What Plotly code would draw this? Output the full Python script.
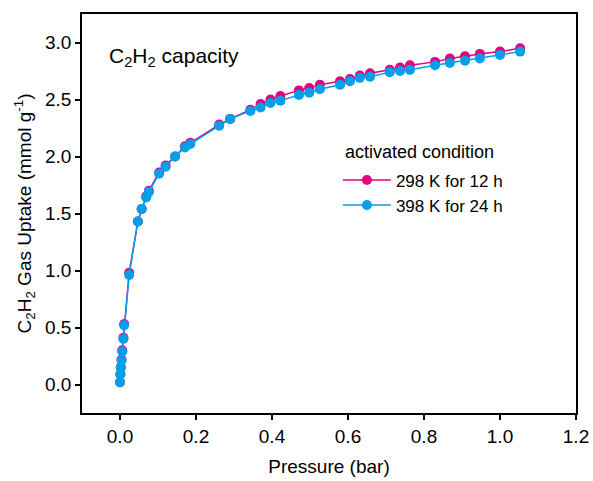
import plotly.graph_objects as go

pressure = [0.000, 0.001, 0.002, 0.004, 0.006, 0.009, 0.011, 0.024, 0.047, 0.057,
            0.069, 0.076, 0.103, 0.120, 0.145, 0.171, 0.185, 0.261, 0.290, 0.343,
            0.370, 0.396, 0.422, 0.471, 0.498, 0.526, 0.579, 0.605, 0.631, 0.658,
            0.710, 0.737, 0.763, 0.829, 0.868, 0.908, 0.947, 1.000, 1.053]

uptake_298 = [0.02, 0.09, 0.15, 0.22, 0.30, 0.41, 0.53, 0.98, 1.43, 1.54,
              1.65, 1.70, 1.86, 1.92, 2.00, 2.09, 2.12, 2.28, 2.33, 2.41,
              2.46, 2.50, 2.53, 2.58, 2.60, 2.63, 2.66, 2.68, 2.71, 2.73,
              2.76, 2.78, 2.80, 2.83, 2.86, 2.88, 2.90, 2.92, 2.95]

uptake_398 = [0.02, 0.09, 0.15, 0.21, 0.29, 0.40, 0.52, 0.96, 1.43, 1.54,
              1.64, 1.69, 1.85, 1.91, 2.00, 2.08, 2.11, 2.27, 2.33, 2.40,
              2.43, 2.47, 2.49, 2.54, 2.56, 2.59, 2.63, 2.66, 2.69, 2.70,
              2.74, 2.75, 2.76, 2.80, 2.82, 2.84, 2.86, 2.89, 2.92]

series_names = ["298 K for 12 h", "398 K for 24 h"]
series_colors = ["#E4007F", "#00A0E9"]
x_ticks = [0.0, 0.2, 0.4, 0.6, 0.8, 1.0, 1.2]
y_ticks = [0.0, 0.5, 1.0, 1.5, 2.0, 2.5, 3.0]

FONT = "Liberation Sans, Arial, sans-serif"

fig = go.Figure()
for name, vals, col in zip(series_names, [uptake_298, uptake_398], series_colors):
    fig.add_trace(go.Scatter(
        x=pressure, y=vals, name=name, mode="lines+markers",
        line=dict(color=col, width=1.5),
        marker=dict(color=col, size=10, line=dict(width=0)),
    ))

axis_common = dict(
    showline=True, linecolor="black", linewidth=1.5, mirror=True,
    ticks="outside", ticklen=5, tickwidth=1.5, tickcolor="black",
    showgrid=False, zeroline=False, automargin=False,
    tickfont=dict(family=FONT, size=19, color="black"),
)

fig.update_layout(
    width=593, height=481,
    margin=dict(l=82, r=17, t=14, b=68),
    paper_bgcolor="white", plot_bgcolor="white",
    font=dict(family=FONT, size=18, color="black"),
    xaxis=dict(range=[-0.1, 1.2], tickvals=x_ticks, tickformat=".1f",
               title=dict(text="Pressure (bar)", font=dict(family=FONT, size=19), standoff=14),
               **axis_common),
    yaxis=dict(range=[-0.25, 3.25], tickvals=y_ticks, tickformat=".1f",
               title=dict(text="C<sub>2</sub>H<sub>2</sub> Gas Uptake (mmol g<sup>-1</sup>)",
                          font=dict(family=FONT, size=19), standoff=8),
               **axis_common),
    legend=dict(
        x=0.518, y=0.628, xanchor="left", yanchor="top",
        bgcolor="rgba(0,0,0,0)", borderwidth=0,
        font=dict(family=FONT, size=17, color="black"),
        itemwidth=48, tracegroupgap=0,
    ),
    annotations=[
        dict(text="C<sub>2</sub>H<sub>2</sub> capacity", xref="paper", yref="paper",
             x=0.05, y=0.892, xanchor="left", yanchor="middle", showarrow=False,
             font=dict(family=FONT, size=21, color="black")),
        dict(text="activated condition", xref="paper", yref="paper",
             x=0.528, y=0.655, xanchor="left", yanchor="middle", showarrow=False,
             font=dict(family=FONT, size=18, color="black")),
    ],
)

fig.write_html("out.html")
